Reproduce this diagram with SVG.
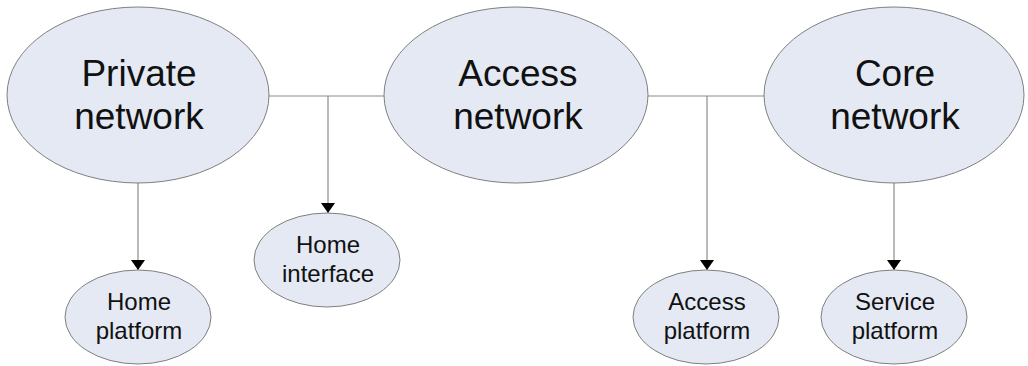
<svg xmlns="http://www.w3.org/2000/svg" width="1028" height="366" viewBox="0 0 1028 366">
<defs>
<marker id="arr" viewBox="0 0 10 14" refX="10" refY="7" markerWidth="10" markerHeight="14" markerUnits="userSpaceOnUse" orient="auto">
<path d="M0,0 L10,7 L0,14 Z" fill="#000"/>
</marker>
<style>
.n{fill:#e4e9f4;stroke:#7f7f7f;stroke-width:1}
.big{font-family:"Liberation Sans",Arial,sans-serif;font-size:37px;fill:#111;text-anchor:middle}
.sm{font-family:"Liberation Sans",Arial,sans-serif;font-size:24px;fill:#111;text-anchor:middle}
.c{stroke:#8c8c8c;stroke-width:1.2;fill:none}
</style>
</defs>
<rect width="1028" height="366" fill="#fff"/>
<g id="connectors">
<line class="c" x1="269" y1="96" x2="385" y2="96"/>
<line class="c" x1="647" y1="96" x2="764" y2="96"/>
<line class="c" x1="328" y1="96" x2="328" y2="213" marker-end="url(#arr)"/>
<line class="c" x1="707" y1="96" x2="707" y2="270" marker-end="url(#arr)"/>
<line class="c" x1="138" y1="183" x2="138" y2="270" marker-end="url(#arr)"/>
<line class="c" x1="894" y1="183" x2="894" y2="270" marker-end="url(#arr)"/>
</g>
<g id="private-network">
<ellipse class="n" cx="138" cy="95" rx="131" ry="88"/>
<text class="big" x="139" y="86">Private</text>
<text class="big" x="139" y="129">network</text>
</g>
<g id="access-network">
<ellipse class="n" cx="516" cy="95" rx="132" ry="88"/>
<text class="big" x="518" y="86">Access</text>
<text class="big" x="518" y="129">network</text>
</g>
<g id="core-network">
<ellipse class="n" cx="894" cy="95" rx="130" ry="88"/>
<text class="big" x="895" y="86">Core</text>
<text class="big" x="895" y="129">network</text>
</g>
<g id="home-platform">
<ellipse class="n" cx="138" cy="317" rx="73" ry="47"/>
<text class="sm" x="139" y="310">Home</text>
<text class="sm" x="139" y="339">platform</text>
</g>
<g id="home-interface">
<ellipse class="n" cx="327" cy="260" rx="73" ry="47"/>
<text class="sm" x="328" y="253">Home</text>
<text class="sm" x="328" y="282">interface</text>
</g>
<g id="access-platform">
<ellipse class="n" cx="706" cy="317" rx="73" ry="47"/>
<text class="sm" x="707" y="310">Access</text>
<text class="sm" x="707" y="339">platform</text>
</g>
<g id="service-platform">
<ellipse class="n" cx="894" cy="317" rx="73" ry="47"/>
<text class="sm" x="895" y="310">Service</text>
<text class="sm" x="895" y="339">platform</text>
</g>
</svg>
